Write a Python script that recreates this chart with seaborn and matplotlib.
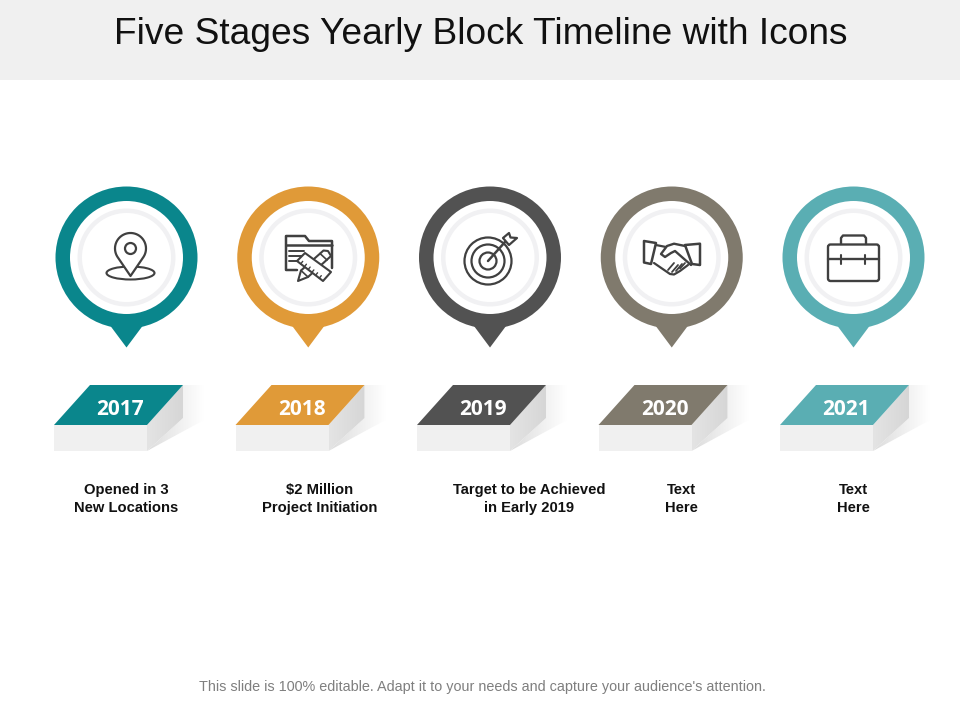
import numpy as np
import matplotlib
matplotlib.use('Agg')
import matplotlib.pyplot as plt
from matplotlib.patches import Ellipse, Circle, Polygon, Rectangle, FancyBboxPatch
import seaborn as sns

title = "Five Stages Yearly Block Timeline with Icons"
footer = "This slide is 100% editable. Adapt it to your needs and capture your audience's attention."
years = ['2017', '2018', '2019', '2020', '2021']
captions = ['Opened in 3\nNew Locations', '$2 Million\nProject Initiation',
            'Target to be Achieved\nin Early 2019', 'Text\nHere', 'Text\nHere']
caption_x = [126, 319.5, 529.5, 681.5, 853]
colors = ['#0a868c', '#e09a38', '#525252', '#807a6d', '#5aaeb3']

ICON = '#404040'
pin_x = 126.5 + 181.75 * np.arange(5)
block_x = 54 + 181.5 * np.arange(5)

sns.set_theme(style='white')
plt.rcParams['font.family'] = ['Liberation Sans', 'DejaVu Sans']

fig = plt.figure(figsize=(9.6, 7.2), dpi=100)
ax = fig.add_axes([0, 0, 1, 1])


def px_size(d):
    # marker area from a diameter in pixels
    return (d * 72 / 100) ** 2


def discs(d, palette, zorder):
    sns.scatterplot(x=pin_x, y=[257.5] * 5, hue=years, palette=palette, s=px_size(d),
                    linewidth=0, legend=False, ax=ax, zorder=zorder)


def line(xs, ys, lw=1.6, z=6):
    ax.plot(xs, ys, color=ICON, lw=lw, zorder=z, solid_capstyle='round', solid_joinstyle='round')


def shape(pts, z=6, lw=1.6, fc='white'):
    ax.add_patch(Polygon(pts, closed=True, fc=fc, ec=ICON, lw=lw, zorder=z, joinstyle='round'))


def gradient(pts, c0, c1, extent):
    # polygon with a left to right gradient, clipped from an image
    t = np.linspace(0, 1, 64)[:, None]
    c0, c1 = np.array(matplotlib.colors.to_rgb(c0)), np.array(matplotlib.colors.to_rgb(c1))
    img = (c0[None, :] * (1 - t) + c1[None, :] * t)[None, :, :]
    im = ax.imshow(img, extent=extent, aspect='auto', zorder=2, interpolation='bilinear')
    im.set_clip_path(Polygon(pts, closed=True, transform=ax.transData))


def icon_pin():
    ax.add_patch(Ellipse((130.5, 273), 48, 13, fc='white', ec=ICON, lw=1.5, zorder=6))
    t = np.linspace(np.radians(-32), np.radians(212), 40)
    hx = 130.5 + 15.5 * np.cos(t)
    hy = 248.5 - 15.5 * np.sin(t)
    shape(list(zip(hx, hy)) + [(130.5, 276)], z=7)
    ax.add_patch(Circle((130.5, 248.5), 5.5, fc='white', ec=ICON, lw=1.6, zorder=8))


def icon_folder():
    line([297, 286, 286, 305, 309, 332, 332], [270, 270, 236, 236, 241, 241, 268], lw=1.8)
    line([286, 332], [245, 245], lw=1.8)
    for y in [251, 256, 260.5]:
        line([289, 304], [y, y], lw=1.4)
    # pencil under the ruler
    shape([(298, 281), (301, 270.5), (323.5, 250.5), (328, 251), (331, 256), (308, 277)], z=7, lw=1.5)
    line([301, 308], [270.5, 277], lw=1.2, z=7)
    line([320, 327], [253.5, 260], lw=1.2, z=7)
    shape([(297, 261), (305, 253), (331, 272), (323, 281)], z=8, lw=1.5)
    for i in range(1, 7):
        bx = 297 + i * 26 / 7
        by = 261 + i * 20 / 7
        line([bx, bx + 2], [by, by - 2.5], lw=1, z=9)


def icon_target():
    for r in [23.5, 16.5, 8.5]:
        ax.add_patch(Circle((488, 261), r, fc='none', ec=ICON, lw=1.6, zorder=6))
    line([488, 505], [261, 242], lw=1.8, z=8)
    shape([(503, 238), (509, 233), (510.5, 237.5), (517, 238), (509, 245)], z=7, lw=1.6)


def icon_hands():
    shape([(644, 241), (656, 243), (651, 264), (644, 262.5)], lw=1.8)
    shape([(700, 243.7), (700, 265), (692, 264), (685, 245)], lw=1.8)
    line([656, 666], [245, 247])
    line([654, 670, 674, 680, 688], [263, 274, 274.5, 271, 265])
    line([685, 674, 667, 661, 665, 671, 675, 691], [246, 243.7, 246, 254, 257, 253, 251, 265], lw=1.7)
    line([672, 678], [272, 265], lw=1.3)
    line([676, 682], [271, 264], lw=1.3)
    line([680, 685], [268.5, 263], lw=1.3)
    line([668, 674], [270, 263], lw=1.3)


def icon_case():
    ax.add_patch(FancyBboxPatch((828, 244.5), 51, 36.5, boxstyle='round,pad=0,rounding_size=2.5',
                                fc='white', ec=ICON, lw=1.7, zorder=6))
    line([841, 841, 843, 864, 866, 866], [244, 238, 235.5, 235.5, 238, 244], lw=1.7)
    line([828, 879], [259, 259], lw=1.7)
    line([841, 841], [255, 264], lw=1.5)
    line([865, 865], [255, 264], lw=1.5)


# header band and text
ax.add_patch(Rectangle((0, 0), 960, 80, fc='#f0f0f0', ec='none', zorder=0))
ax.text(480.5, 44, title, ha='center', va='baseline', fontsize=26.75, color='#111111', zorder=10)
ax.text(482.5, 686.5, footer, ha='center', va='center', fontsize=10.4, color='#7f7f7f', zorder=10)

# pins
discs(142, colors, 3)
for x, c in zip(pin_x, colors):
    ax.add_patch(Polygon([(x - 19, 322), (x + 19, 322), (x, 347.5)], closed=True, fc=c, ec='none', zorder=3))
discs(113, ['white'] * 5, 4)
discs(98, ['#f1f1f3'] * 5, 4.1)
discs(89, ['white'] * 5, 4.2)

icon_pin()
icon_folder()
icon_target()
icon_hands()
icon_case()

# blocks
for x, c, y, cap, cap_x in zip(block_x, colors, years, captions, caption_x):
    gradient([(x + 129, 385), (x + 150, 385), (x + 150, 420), (x + 93, 451), (x + 129, 418)],
             '#dcdcdc', '#ffffff', [x + 93, x + 150, 451, 385])
    gradient([(x + 93, 425), (x + 129, 385), (x + 129, 418), (x + 93, 451)],
             '#e4e4e4', '#d6d6d6', [x + 93, x + 129, 451, 385])
    ax.add_patch(Rectangle((x, 425), 93, 26, fc='#f0f0f0', ec='none', zorder=3))
    ax.add_patch(Polygon([(x, 425), (x + 36, 385), (x + 129, 385), (x + 93, 425)],
                         closed=True, fc=c, ec='none', zorder=3))
    ax.text(x + 66, 409.5, y, ha='center', va='center', fontsize=15, fontweight='bold',
            color='white', zorder=5, family=['Open Sans', 'DejaVu Sans'])
    ax.text(cap_x, 499, cap, ha='center', va='center', fontsize=10.6, fontweight='bold',
            color='#111111', linespacing=1.3, zorder=5)

ax.set_xlim(0, 960)
ax.set_ylim(720, 0)
ax.axis('off')
fig.savefig('out.png', dpi=100, facecolor='white')
